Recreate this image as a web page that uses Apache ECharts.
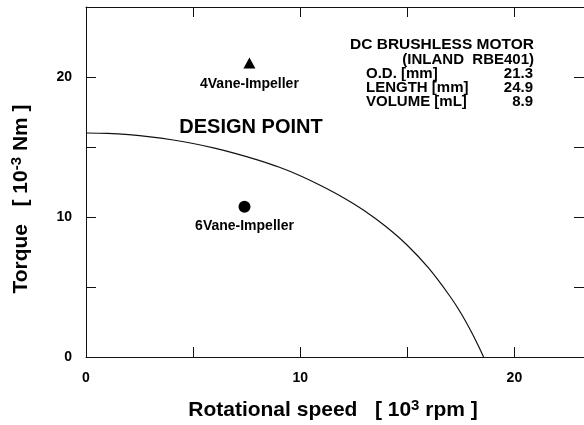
<!DOCTYPE html>
<html><head><meta charset="utf-8">
<script src="https://cdn.jsdelivr.net/npm/echarts@6/dist/echarts.min.js"></script>
<style>html,body{margin:0;padding:0;background:#fff}#c{width:584px;height:425px}</style>
</head><body><div id="c"></div>
<script>
// Motor torque-speed curve (x: 10^3 rpm, y: 10^-3 Nm)
const speed  = [0, 1, 2, 3, 4, 5, 6, 7, 8, 9, 10, 11, 12, 13, 14, 15, 16, 17, 17.5, 18, 18.3, 18.56];
const torque = [16.0, 15.97, 15.88, 15.73, 15.52, 15.25, 14.92, 14.53, 14.08, 13.57, 12.95, 12.22, 11.4, 10.45, 9.32, 7.98, 6.34, 4.32, 3.14, 1.77, 0.85, 0];
// Impeller operating points
const pointNames = ['4Vane-Impeller', '6Vane-Impeller'];
const pointSpeed = [7.63, 7.4];
const pointTorque = [21.0, 10.74];
// Tick labels
const xTickLabels = ['0', '10', '20'];
const yTickLabels = ['0', '10', '20'];
// Annotation text
const designText = 'DESIGN POINT';
const specTitle = ['DC BRUSHLESS MOTOR', '(INLAND  RBE401)'];
const specNames = ['O.D. [mm]', 'LENGTH [mm]', 'VOLUME [mL]'];
const specValues = ['21.3', '24.9', '8.9'];

const FONT = 'Liberation Sans';
const chart = echarts.init(document.getElementById('c'), null, {renderer: 'canvas'});

const lbl = (list) => (v) => list.indexOf(String(v)) >= 0 ? String(v) : '';
const axisLine = {show: true, onZero: false, lineStyle: {color: '#111', width: 1}};
const tick = {show: true, inside: true, length: 10, lineStyle: {color: '#111', width: 1}};

const graphics = [
  {type: 'text', x: 251, y: 127,
   style: {text: designText, font: 'bold 20px ' + FONT, fill: '#000', textAlign: 'center', textVerticalAlign: 'middle'}},
  {type: 'text', x: 350, y: 45, style: {text: specTitle[0], font: 'bold 15.5px ' + FONT, fill: '#000', textAlign: 'left', textVerticalAlign: 'middle'}},
  {type: 'text', x: 534, y: 59.5, style: {text: specTitle[1], font: 'bold 15px ' + FONT, fill: '#000', textAlign: 'right', textVerticalAlign: 'middle'}}
];
specNames.forEach((n, i) => {
  const y = 73.5 + i * 14.2;
  graphics.push({type: 'text', x: 366, y: y, style: {text: n, font: 'bold 15px ' + FONT, fill: '#000', textAlign: 'left', textVerticalAlign: 'middle'}});
  graphics.push({type: 'text', x: 533, y: y, style: {text: specValues[i], font: 'bold 15px ' + FONT, fill: '#000', textAlign: 'right', textVerticalAlign: 'middle'}});
});
graphics.push({type: 'text', x: 333, y: 410,
  style: {text: '{a|Rotational speed   [ 10}{s|3}{a| rpm ]}', fill: '#000', textAlign: 'center', textVerticalAlign: 'middle',
    rich: {a: {font: 'bold 21px ' + FONT, fill: '#000'}, s: {font: 'bold 15px ' + FONT, fill: '#000', verticalAlign: 'top', padding: [0,0,9,0]}}}});
graphics.push({type: 'text', x: 21, y: 199, rotation: Math.PI / 2,
  style: {text: '{a|Torque   [ 10}{s|-3}{a| Nm ]}', fill: '#000', textAlign: 'center', textVerticalAlign: 'middle',
    rich: {a: {font: 'bold 21px ' + FONT, fill: '#000'}, s: {font: 'bold 15px ' + FONT, fill: '#000', verticalAlign: 'top', padding: [0,0,9,0]}}}});

chart.setOption({
  animation: false,
  backgroundColor: '#fff',
  grid: {left: 86, top: 7, right: -2, bottom: 68, containLabel: false},
  xAxis: [
    {type: 'value', position: 'bottom', min: 0, max: 23.25, interval: 5,
     axisLine: axisLine, axisTick: tick, splitLine: {show: false},
     axisLabel: {formatter: lbl(xTickLabels), margin: 14, color: '#000', fontFamily: FONT, fontWeight: 'bold', fontSize: 14, showMaxLabel: false}},
    {type: 'value', position: 'top', min: 0, max: 23.25, interval: 5,
     axisLine: axisLine, axisTick: tick, splitLine: {show: false}, axisLabel: {show: false}}
  ],
  yAxis: [
    {type: 'value', position: 'left', min: 0, max: 25, interval: 5,
     axisLine: axisLine, axisTick: tick, splitLine: {show: false},
     axisLabel: {formatter: lbl(yTickLabels), margin: 14, color: '#000', fontFamily: FONT, fontWeight: 'bold', fontSize: 14}},
    {type: 'value', position: 'right', min: 0, max: 25, interval: 5,
     axisLine: axisLine, axisTick: tick, splitLine: {show: false}, axisLabel: {show: false}}
  ],
  series: [
    {type: 'line', xAxisIndex: 0, yAxisIndex: 0, data: speed.map((s, i) => [s, torque[i]]),
     smooth: 0.3, showSymbol: false, lineStyle: {color: '#111', width: 1.2}, silent: true},
    {type: 'scatter', xAxisIndex: 0, yAxisIndex: 0, symbol: 'triangle', symbolSize: [12, 11],
     itemStyle: {color: '#000', opacity: 1}, data: [[pointSpeed[0], pointTorque[0]]],
     label: {show: true, position: 'bottom', distance: 9, formatter: pointNames[0], color: '#000', opacity: 1, fontFamily: FONT, fontWeight: 'bold', fontSize: 14}},
    {type: 'scatter', xAxisIndex: 0, yAxisIndex: 0, symbol: 'circle', symbolSize: 12,
     itemStyle: {color: '#000', opacity: 1}, data: [[pointSpeed[1], pointTorque[1]]],
     label: {show: true, position: 'bottom', distance: 7, formatter: pointNames[1], color: '#000', opacity: 1, fontFamily: FONT, fontWeight: 'bold', fontSize: 14}}
  ],
  graphic: graphics
});
</script></body></html>
